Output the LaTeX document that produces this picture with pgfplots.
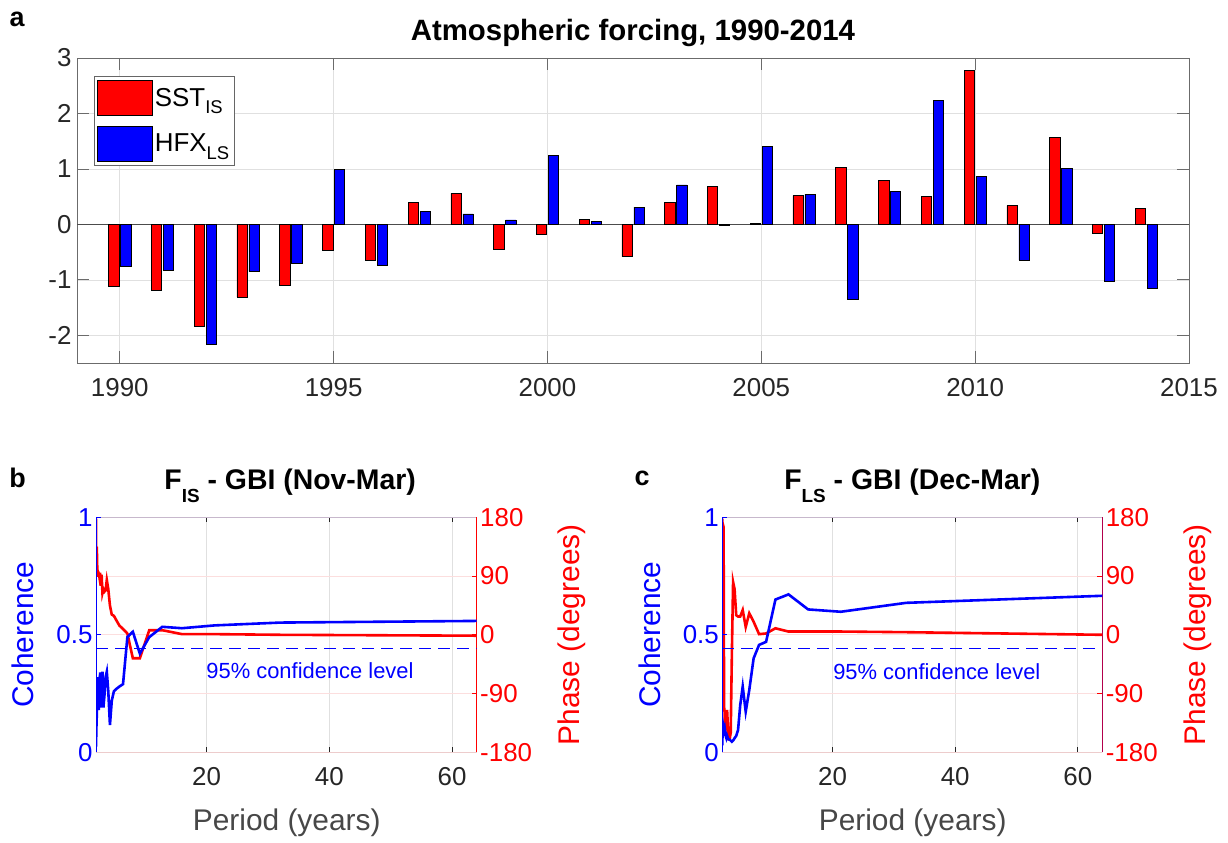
\documentclass[border=0pt]{standalone}
\usepackage{fontspec}
\setmainfont{Liberation Sans}
\usepackage{pgfplots}
\pgfplotsset{compat=1.18}
\definecolor{tg}{rgb}{0.15,0.15,0.15}
\definecolor{gridc}{rgb}{0.88,0.88,0.88}
\definecolor{pinkg}{rgb}{0.99,0.87,0.87}
\definecolor{boxg}{rgb}{0.42,0.42,0.42}
\definecolor{topl}{rgb}{0.78,0.72,0.80}
\definecolor{botl}{rgb}{0.93,0.80,0.80}
\newcommand{\fs}[1]{\fontsize{#1}{#1}\selectfont}
\pgfplotsset{
 lowstyle/.style={scale only axis, width=380.7bp, height=235bp, xmin=2, xmax=64,
   anchor=south west, /pgf/number format/assume math mode=true,
   tick align=inside, major tick length=5bp},
}
\begin{document}
\begin{tikzpicture}[x=1bp,y=1bp]
\useasboundingbox (0bp,0bp) rectangle (1228bp,843bp);
\node[font=\bfseries\fs{27}] at (17bp,824bp) {a};
\node[font=\bfseries\fs{27}] at (17.5bp,365bp) {b};
\node[font=\bfseries\fs{27}] at (642bp,365bp) {c};

% ---------------- panel a
\begin{axis}[
 at={(77bp,480bp)}, anchor=south west,
 scale only axis, width=1112bp, height=305bp,
 xmin=1989, xmax=2015, ymin=-2.5, ymax=3,
 xtick={1990,1995,2000,2005,2010,2015}, ytick={-2,-1,0,1,2,3},
 /pgf/number format/1000 sep={},
 /pgf/number format/assume math mode=true,
 tick label style={font=\fs{26}, text=tg},
 xticklabel style={yshift=-12bp},
 yticklabel style={xshift=-2bp},
 grid=major, major grid style={gridc, line width=0.6bp},
 tick align=inside, major tick length=12bp,
 tick style={boxg, line width=0.8bp},
 axis line style={boxg, line width=0.8bp},
 title={Atmospheric forcing, 1990-2014},
 title style={font=\bfseries\fs{29.5}, at={(axis description cs:0.5,1)}, anchor=base, yshift=12bp},
 legend style={at={(0.0153,0.941)}, anchor=north west, draw=black!60, line width=0.6bp,
   font=\fs{26}, inner xsep=3bp, inner ysep=4bp, row sep=10bp},
 legend cell align=left,
]
\addlegendimage{legend image code/.code={\draw[fill=red,draw=black,line width=0.6bp] (0bp,-17.5bp) rectangle (55bp,17.5bp);}}
\addlegendentry{SST\raisebox{-7.5bp}{\fs{18.5}IS}}
\addlegendimage{legend image code/.code={\draw[fill=blue,draw=black,line width=0.6bp] (0bp,-17.5bp) rectangle (55bp,17.5bp);}}
\addlegendentry{HFX\raisebox{-7.5bp}{\fs{18.5}LS}}
\draw[black!70, line width=0.8bp] (axis cs:1989,0) -- (axis cs:2015,0);
\addplot[ybar, bar width=0.24, bar shift=-0.14, fill=red, draw=black, line width=0.5bp, forget plot] coordinates {
(1990,-1.12) (1991,-1.19) (1992,-1.84) (1993,-1.31) (1994,-1.09) (1995,-0.46) (1996,-0.65)
(1997,0.40) (1998,0.56) (1999,-0.44) (2000,-0.18) (2001,0.09) (2002,-0.58) (2003,0.40)
(2004,0.68) (2005,0.02) (2006,0.52) (2007,1.03) (2008,0.79) (2009,0.50) (2010,2.78)
(2011,0.34) (2012,1.57) (2013,-0.16) (2014,0.29)};
\addplot[ybar, bar width=0.24, bar shift=0.14, fill=blue, draw=black, line width=0.5bp, forget plot] coordinates {
(1990,-0.76) (1991,-0.83) (1992,-2.16) (1993,-0.85) (1994,-0.71) (1995,0.99) (1996,-0.73)
(1997,0.23) (1998,0.19) (1999,0.08) (2000,1.25) (2001,0.05) (2002,0.31) (2003,0.71)
(2004,-0.01) (2005,1.41) (2006,0.54) (2007,-1.35) (2008,0.59) (2009,2.24) (2010,0.86)
(2011,-0.64) (2012,1.01) (2013,-1.03) (2014,-1.15)};
\end{axis}

% ---------------- panel b : phase
\begin{axis}[lowstyle, at={(96bp,90.7bp)},
 ymin=-180, ymax=180, ytick={-180,-90,0,90,180},
 axis x line*=top, axis y line*=right,
 xtick={20,40,60}, xticklabels={},
 grid=major, major grid style={line width=0.6bp},
 every axis x grid/.style={gridc}, every axis y grid/.style={pinkg},
 x axis line style={topl, line width=0.8bp},
 y axis line style={red, line width=0.8bp},
 tick style={tg, line width=0.8bp}, every y tick/.style={red},
 yticklabel style={font=\fs{26}, text=red},
 ylabel={Phase (degrees)}, ylabel style={font=\fs{30}, text=red, at={(axis description cs:1.2496,0.5)}, anchor=center},
]
\addplot[red, line width=2.6bp] coordinates {
(2,178) (2.06,90) (2.13,135) (2.21,100) (2.29,89) (2.37,96) (2.46,94) (2.56,88) (2.67,95)
(2.78,75) (2.91,92) (3.05,64) (3.2,70) (3.37,66) (3.56,68) (3.76,84) (4,70) (4.27,45)
(4.57,31) (4.92,29) (5.33,22) (5.82,14) (6.4,9) (7.11,2) (8,-36) (9.14,-36) (10.67,7)
(12.8,7) (16,1) (21.33,1) (32,0) (64,-1.4)};
\end{axis}
% ---------------- panel b : coherence
\begin{axis}[lowstyle, at={(96bp,90.7bp)},
 ymin=0, ymax=1, ytick={0,0.5,1},
 axis x line*=bottom, axis y line*=left,
 xtick={20,40,60},
 x axis line style={botl, line width=0.8bp},
 y axis line style={blue, line width=0.8bp},
 tick style={tg, line width=0.8bp}, every y tick/.style={blue},
 xticklabel style={font=\fs{26}, text=tg, yshift=-12bp},
 yticklabel style={font=\fs{26}, text=blue},
 xlabel={Period (years)}, xlabel style={font=\fs{30}, text=tg!85, at={(axis description cs:0.501,-0.302)}, anchor=center},
 ylabel={Coherence}, ylabel style={font=\fs{30}, text=blue, at={(axis description cs:-0.191,0.5)}, anchor=center},
 title={F\raisebox{-13bp}{\fs{19}IS} - GBI (Nov-Mar)},
 title style={font=\bfseries\fs{28.5}, at={(axis description cs:0.51,1)}, anchor=base, yshift=21.6bp},
]
\addplot[blue, line width=1bp, dash pattern=on 12bp off 7bp] coordinates {(2,0.44) (64,0.44)};
\addplot[blue, line width=2.6bp] coordinates {
(2,0.024) (2.06,0.10) (2.13,0.16) (2.21,0.24) (2.29,0.32) (2.37,0.30) (2.46,0.18) (2.56,0.24)
(2.67,0.34) (2.78,0.32) (2.91,0.19) (3.05,0.343) (3.2,0.19) (3.37,0.24) (3.56,0.32) (3.76,0.343)
(4,0.26) (4.27,0.116) (4.57,0.22) (4.92,0.26) (5.33,0.27) (5.82,0.28) (6.4,0.29) (7.11,0.49)
(8,0.513) (9.14,0.42) (10.67,0.49) (12.8,0.534) (16,0.528) (21.33,0.54) (32,0.552) (64,0.559)};
\node[font=\fs{22}, text=blue] at (axis cs:36.85,0.347) {95\% confidence level};
\end{axis}

% ---------------- panel c : phase
\begin{axis}[lowstyle, at={(722.3bp,90.7bp)}, width=380bp,
 ymin=-180, ymax=180, ytick={-180,-90,0,90,180},
 axis x line*=top, axis y line*=right,
 xtick={20,40,60}, xticklabels={},
 grid=major, major grid style={line width=0.6bp},
 every axis x grid/.style={gridc}, every axis y grid/.style={pinkg},
 x axis line style={topl, line width=0.8bp},
 y axis line style={red!70!blue, line width=0.8bp},
 tick style={tg, line width=0.8bp}, every y tick/.style={red},
 yticklabel style={font=\fs{26}, text=red},
 ylabel={Phase (degrees)}, ylabel style={font=\fs{30}, text=red, at={(axis description cs:1.2518,0.5)}, anchor=center},
]
\addplot[red, line width=2.6bp] coordinates {
(2,178) (2.06,80) (2.13,168) (2.21,165) (2.29,-110) (2.37,-118) (2.46,-150) (2.56,-120)
(2.67,-140) (2.78,-115) (2.91,-140) (3.05,-160) (3.2,-160) (3.37,-150) (3.56,-30) (3.76,81)
(4,70) (4.27,30) (4.57,28) (4.92,28) (5.33,38) (5.82,12) (6.4,33) (7.11,20) (8,1) (9.14,2)
(10.67,10) (12.8,5) (16,5) (21.33,5) (32,4) (64,0)};
\end{axis}
% ---------------- panel c : coherence
\begin{axis}[lowstyle, at={(722.3bp,90.7bp)}, width=380bp,
 ymin=0, ymax=1, ytick={0,0.5,1},
 axis x line*=bottom, axis y line*=left,
 xtick={20,40,60},
 x axis line style={botl, line width=0.8bp},
 y axis line style={blue, line width=0.8bp},
 tick style={tg, line width=0.8bp}, every y tick/.style={blue},
 xticklabel style={font=\fs{26}, text=tg, yshift=-12bp},
 yticklabel style={font=\fs{26}, text=blue},
 xlabel={Period (years)}, xlabel style={font=\fs{30}, text=tg!85, at={(axis description cs:0.501,-0.302)}, anchor=center},
 ylabel={Coherence}, ylabel style={font=\fs{30}, text=blue, at={(axis description cs:-0.191,0.5)}, anchor=center},
 title={F\raisebox{-13bp}{\fs{19}LS} - GBI (Dec-Mar)},
 title style={font=\bfseries\fs{28.5}, at={(axis description cs:0.50,1)}, anchor=base, yshift=21.6bp},
]
\addplot[blue, line width=1bp, dash pattern=on 12bp off 7bp] coordinates {(2,0.44) (64,0.44)};
\addplot[blue, line width=2.6bp] coordinates {
(2,0.03) (2.06,0.11) (2.13,0.08) (2.21,0.11) (2.29,0.10) (2.37,0.07) (2.46,0.09) (2.56,0.07)
(2.67,0.06) (2.78,0.07) (2.91,0.06) (3.05,0.055) (3.2,0.054) (3.37,0.05) (3.56,0.045) (3.76,0.05)
(4,0.06) (4.27,0.07) (4.57,0.095) (4.92,0.2) (5.33,0.28) (5.82,0.173) (6.4,0.265) (7.11,0.40)
(8,0.457) (9.14,0.47) (10.67,0.65) (12.8,0.672) (16,0.608) (21.33,0.598) (32,0.636) (64,0.666)};
\node[font=\fs{22}, text=blue] at (axis cs:37,0.343) {95\% confidence level};
\end{axis}
\end{tikzpicture}
\end{document}
